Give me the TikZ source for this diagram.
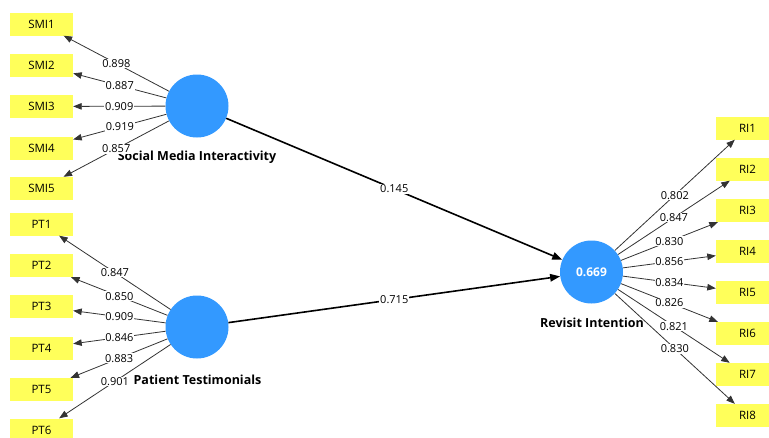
\documentclass[tikz,border=0pt]{standalone}
\usepackage{fontspec}
\setmainfont{Open Sans}
\usetikzlibrary{arrows.meta}
\definecolor{lvblue}{RGB}{51,153,255}
\definecolor{indyellow}{RGB}{255,255,90}
\begin{document}
\begin{tikzpicture}[x=1pt,y=-1pt,
  indicator/.style={rectangle, fill=indyellow, minimum width=63pt, minimum height=23pt, inner sep=0pt, font=\fontsize{11.5}{13}\selectfont},
  latent/.style={circle, fill=lvblue, minimum size=63pt, inner sep=0pt, text=white, font=\fontsize{12}{14}\selectfont\bfseries},
  lvname/.style={font=\fontsize{12.5}{15}\selectfont\bfseries},
  loading/.style={draw=black!80, line width=0.8pt, -{Triangle[length=8.5pt,width=6.5pt]}},
  structpath/.style={draw=black, line width=1.6pt, -{Triangle[length=10pt,width=7.5pt]}},
  wlabel/.style={fill=white, inner sep=0.8pt, font=\fontsize{11}{13}\selectfont}
]
\useasboundingbox (0,0) rectangle (769,437);
\clip (0,0) rectangle (769,437);

% latent variables
\node[latent] (smi) at (197,106) {};
\node[latent] (pt)  at (197,327) {};
\node[latent] (ri)  at (591.5,272) {0.669};
\node[lvname] (sminame) at (197,157) {Social Media Interactivity};
\node[lvname] (ptname)  at (197.5,380) {Patient Testimonials};
\node[lvname] (riname)  at (592,323) {Revisit Intention};

% indicators: Social Media Interactivity
\node[indicator] (smi1) at (41.5,24)    {SMI1};
\node[indicator] (smi2) at (41.5,65)    {SMI2};
\node[indicator] (smi3) at (41.5,106.5) {SMI3};
\node[indicator] (smi4) at (41.5,148)   {SMI4};
\node[indicator] (smi5) at (41.5,188.5) {SMI5};

% indicators: Patient Testimonials
\node[indicator] (pt1) at (41.5,224)   {PT1};
\node[indicator] (pt2) at (41.5,265.5) {PT2};
\node[indicator] (pt3) at (41.5,306.5) {PT3};
\node[indicator] (pt4) at (41.5,348)   {PT4};
\node[indicator] (pt5) at (41.5,389.5) {PT5};
\node[indicator] (pt6) at (41.5,430)   {PT6};

% indicators: Revisit Intention
\node[indicator] (ri1) at (747.5,128)   {RI1};
\node[indicator] (ri2) at (747.5,169)   {RI2};
\node[indicator] (ri3) at (747.5,210.5) {RI3};
\node[indicator] (ri4) at (747.5,251.5) {RI4};
\node[indicator] (ri5) at (747.5,292.5) {RI5};
\node[indicator] (ri6) at (747.5,333.5) {RI6};
\node[indicator] (ri7) at (747.5,374.5) {RI7};
\node[indicator] (ri8) at (747.5,415.5) {RI8};

% outer loadings
\draw[loading] (smi) -- node[wlabel] {0.898} (smi1);
\draw[loading] (smi) -- node[wlabel] {0.887} (smi2);
\draw[loading] (smi) -- node[wlabel] {0.909} (smi3);
\draw[loading] (smi) -- node[wlabel] {0.919} (smi4);
\draw[loading] (smi) -- node[wlabel] {0.857} (smi5);

\draw[loading] (pt) -- node[wlabel] {0.847} (pt1);
\draw[loading] (pt) -- node[wlabel] {0.850} (pt2);
\draw[loading] (pt) -- node[wlabel] {0.909} (pt3);
\draw[loading] (pt) -- node[wlabel] {0.846} (pt4);
\draw[loading] (pt) -- node[wlabel] {0.883} (pt5);
\draw[loading] (pt) -- node[wlabel] {0.901} (pt6);

\draw[loading] (ri) -- node[wlabel] {0.802} (ri1);
\draw[loading] (ri) -- node[wlabel] {0.847} (ri2);
\draw[loading] (ri) -- node[wlabel] {0.830} (ri3);
\draw[loading] (ri) -- node[wlabel] {0.856} (ri4);
\draw[loading] (ri) -- node[wlabel] {0.834} (ri5);
\draw[loading] (ri) -- node[wlabel] {0.826} (ri6);
\draw[loading] (ri) -- node[wlabel] {0.821} (ri7);
\draw[loading] (ri) -- node[wlabel] {0.830} (ri8);

% path coefficients
\draw[structpath] (smi) -- node[wlabel] {0.145} (ri);
\draw[structpath] (pt)  -- node[wlabel] {0.715} (ri);
\end{tikzpicture}
\end{document}
